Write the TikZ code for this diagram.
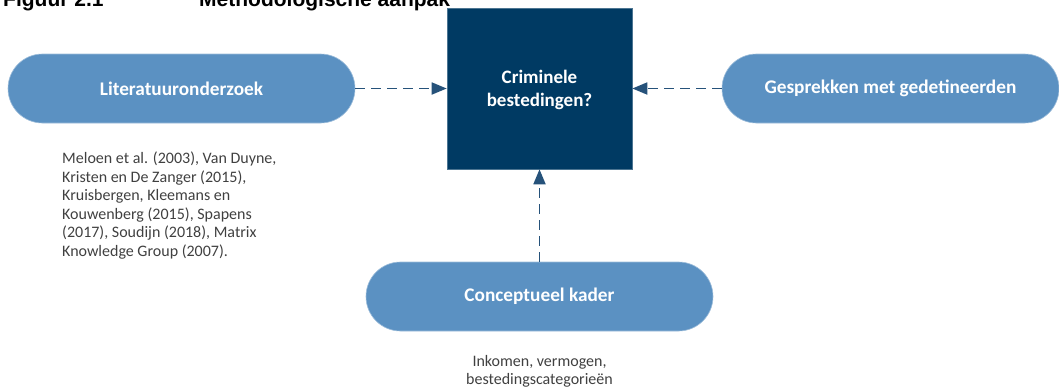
\documentclass[tikz,border=0pt]{standalone}
\usepackage{fontspec}
\setmainfont{Carlito}
\newfontfamily\titlefont{Liberation Sans}
\usetikzlibrary{arrows.meta}
\definecolor{pillblue}{RGB}{91,145,194}
\definecolor{boxblue}{RGB}{0,58,99}
\definecolor{arrowblue}{RGB}{38,82,122}
\definecolor{bodygray}{RGB}{64,64,64}
\tikzset{
  pill/.style={rectangle, rounded corners=34.5pt, fill=pillblue, draw=pillblue!60!white, line width=0.6pt,
    minimum height=69pt, inner sep=0pt, text=white, font=\bfseries\fontsize{19.3}{23}\selectfont},
  centerbox/.style={rectangle, fill=boxblue, draw=boxblue!70!white, line width=0.6pt, minimum width=185pt, minimum height=161pt,
    inner sep=0pt, text=white, align=center, font=\bfseries\fontsize{19}{23}\selectfont},
  note/.style={inner sep=0pt, text=bodygray, font=\fontsize{16}{18.6}\selectfont},
  flow/.style={draw=arrowblue, line width=1.8pt, dash pattern=on 10pt off 6pt,
    -{Triangle[length=15pt,width=12pt]}},
  titletext/.style={inner sep=0pt, anchor=base west, font=\titlefont\bfseries\fontsize{21}{25}\selectfont}
}
\begin{document}
\begin{tikzpicture}[x=1pt,y=-1pt]
\useasboundingbox (0,0) rectangle (1059,389);
\node[titletext] (fig) at (3,6) {Figuur 2.1};
\node[titletext] (figtitle) at (199,6) {Methodologische aanpak};
\node[centerbox] (crim) at (539.5,88.5) {};
\node[text=white, align=center, font=\bfseries\fontsize{19}{23}\selectfont, inner sep=0pt] (crimlabel) at (539.5,90) {Criminele\\bestedingen?};
\node[pill, minimum width=347pt] (lit) at (181.5,88.5) {Literatuuronderzoek};
\node[pill, minimum width=337pt] (gesp) at (890.5,88.5) {Gesprekken met gedetineerden};
\node[pill, minimum width=347pt] (kader) at (539.5,296.5) {Conceptueel kader};
\node[note, anchor=north west, align=left] (littext) at (62,151.5) {Meloen et al. (2003), Van Duyne,\\Kristen en De Zanger (2015),\\Kruisbergen, Kleemans en\\Kouwenberg (2015), Spapens\\(2017), Soudijn (2018), Matrix\\Knowledge Group (2007).};
\node[note, anchor=north, align=center] (kadertext) at (539.5,355) {Inkomen, vermogen,\\bestedingscategorieën};
\draw[flow] (lit.east) -- (crim.west);
\draw[flow] (gesp.west) -- (crim.east);
\draw[flow] (kader.north) -- (crim.south);
\end{tikzpicture}
\end{document}
